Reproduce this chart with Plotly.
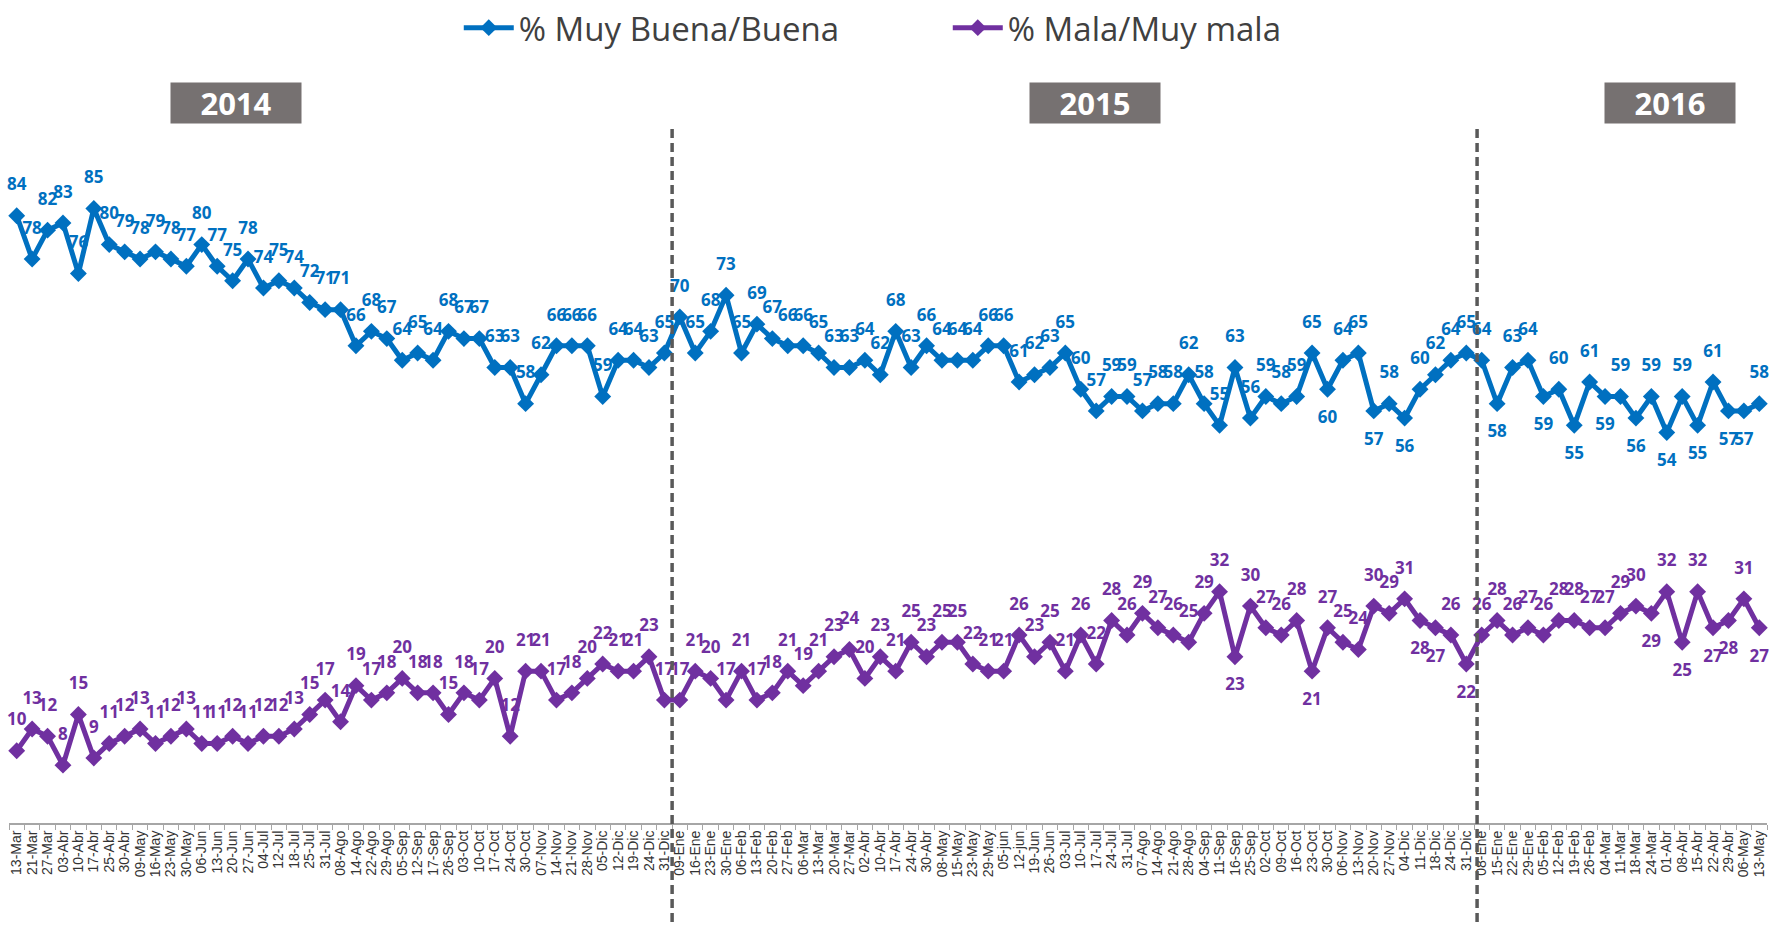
import plotly.graph_objects as go

# fechas (eje X) por año
fechas_2014 = ["13-Mar", "21-Mar", "27-Mar", "03-Abr", "10-Abr", "17-Abr", "25-Abr", "30-Abr", "09-May",
               "16-May", "23-May", "30-May", "06-Jun", "13-Jun", "20-Jun", "27-Jun", "04-Jul", "12-Jul",
               "18-Jul", "25-Jul", "31-Jul", "08-Ago", "14-Ago", "22-Ago", "29-Ago", "05-Sep", "12-Sep",
               "17-Sep", "26-Sep", "03-Oct", "10-Oct", "17-Oct", "24-Oct", "30-Oct", "07-Nov", "14-Nov",
               "21-Nov", "28-Nov", "05-Dic", "12-Dic", "19-Dic", "24-Dic", "31-Dic"]
fechas_2015 = ["09-Ene", "16-Ene", "23-Ene", "30-Ene", "06-Feb", "13-Feb", "20-Feb", "27-Feb", "06-Mar",
               "13-Mar", "20-Mar", "27-Mar", "02-Abr", "10-Abr", "17-Abr", "24-Abr", "30-Abr", "08-May",
               "15-May", "23-May", "29-May", "05-jun", "12-jun", "19-Jun", "26-Jun", "03-Jul", "10-Jul",
               "17-Jul", "24-Jul", "31-Jul", "07-Ago", "14-Ago", "21-Ago", "28-Ago", "04-Sep", "11-Sep",
               "16-Sep", "25-Sep", "02-Oct", "09-Oct", "16-Oct", "23-Oct", "30-Oct", "06-Nov", "13-Nov",
               "20-Nov", "27-Nov", "04-Dic", "11-Dic", "18-Dic", "24-Dic", "31-Dic"]
fechas_2016 = ["08-Ene", "15-Ene", "22-Ene", "29-Ene", "05-Feb", "12-Feb", "19-Feb", "26-Feb", "04-Mar",
               "11-Mar", "18-Mar", "24-Mar", "01-Abr", "08-Abr", "15-Abr", "22-Abr", "29-Abr", "06-May",
               "13-May"]

# % Muy Buena/Buena
buena_2014 = [84, 78, 82, 83, 76, 85, 80, 79, 78, 79, 78, 77, 80, 77, 75, 78, 74, 75, 74, 72, 71, 71,
              66, 68, 67, 64, 65, 64, 68, 67, 67, 63, 63, 58, 62, 66, 66, 66, 59, 64, 64, 63, 65]
buena_2015 = [70, 65, 68, 73, 65, 69, 67, 66, 66, 65, 63, 63, 64, 62, 68, 63, 66, 64, 64, 64, 66, 66,
              61, 62, 63, 65, 60, 57, 59, 59, 57, 58, 58, 62, 58, 55, 63, 56, 59, 58, 59, 65, 60, 64,
              65, 57, 58, 56, 60, 62, 64, 65]
buena_2016 = [64, 58, 63, 64, 59, 60, 55, 61, 59, 59, 56, 59, 54, 59, 55, 61, 57, 57, 58]

# % Mala/Muy mala
mala_2014 = [10, 13, 12, 8, 15, 9, 11, 12, 13, 11, 12, 13, 11, 11, 12, 11, 12, 12, 13, 15, 17, 14,
             19, 17, 18, 20, 18, 18, 15, 18, 17, 20, 12, 21, 21, 17, 18, 20, 22, 21, 21, 23, 17]
mala_2015 = [17, 21, 20, 17, 21, 17, 18, 21, 19, 21, 23, 24, 20, 23, 21, 25, 23, 25, 25, 22, 21, 21,
             26, 23, 25, 21, 26, 22, 28, 26, 29, 27, 26, 25, 29, 32, 23, 30, 27, 26, 28, 21, 27, 25,
             24, 30, 29, 31, 28, 27, 26, 22]
mala_2016 = [26, 28, 26, 27, 26, 28, 28, 27, 27, 29, 30, 29, 32, 25, 32, 27, 28, 31, 27]

anios = ["2014", "2015", "2016"]

fechas = fechas_2014 + fechas_2015 + fechas_2016
buena = buena_2014 + buena_2015 + buena_2016
mala = mala_2014 + mala_2015 + mala_2016
x = list(range(len(fechas)))

AZUL = "#0070C0"
MORADO = "#7030A0"

# etiquetas que van debajo del punto (estilo)
azul_abajo = {85, 88, 90, 96, 99, 101, 103, 105, 107, 109, 111, 112}
morado_abajo = {79, 84, 91, 92, 94, 106, 108, 110, 111, 113}

fig = go.Figure()

for nombre, serie, color, abajo in [("% Muy Buena/Buena", buena, AZUL, azul_abajo),
                                    ("% Mala/Muy mala", mala, MORADO, morado_abajo)]:
    fig.add_trace(go.Scatter(
        x=x, y=serie, mode="lines+markers", name=nombre,
        line=dict(color=color, width=5),
        marker=dict(symbol="diamond", size=13, color=color),
        cliponaxis=False,
    ))
    # etiquetas de datos (marcador invisible más grande para separarlas de la línea)
    fig.add_trace(go.Scatter(
        x=x, y=serie, mode="markers+text", showlegend=False, hoverinfo="skip",
        marker=dict(size=32, color="rgba(0,0,0,0)"),
        text=[str(v) for v in serie],
        textposition=["bottom center" if i in abajo else "top center" for i in x],
        textfont=dict(family="Open Sans", size=17, color=color, weight="bold"),
        cliponaxis=False,
    ))

# separadores de año
cortes = [len(fechas_2014) - 0.5, len(fechas_2014) + len(fechas_2015) - 0.3]
for c in cortes:
    fig.add_shape(type="line", xref="x", yref="paper", x0=c, x1=c, y0=-0.137, y1=0.964,
                  line=dict(color="#595959", width=3.5, dash="9px,5px"))

# cajas de año
pos_anios = [0.129, 0.6175, 0.945]
for a, px in zip(anios, pos_anios):
    fig.add_annotation(text=f"<b>{a}</b>", xref="paper", yref="paper", x=px, y=0.996,
                       xanchor="center", yanchor="middle",
                       showarrow=False, width=128, height=38, borderpad=1, bgcolor="#767171",
                       font=dict(family="Open Sans", size=31, color="white"))

fig.update_layout(
    width=1781, height=925,
    paper_bgcolor="white", plot_bgcolor="white",
    margin=dict(l=9, r=14, t=100, b=102, autoexpand=False),
    showlegend=True,
    legend=dict(orientation="h", x=0.534, xanchor="center", y=1.100, yanchor="middle",
                font=dict(family="Open Sans", size=33, color="#404040"),
                itemwidth=50, entrywidth=424, bgcolor="rgba(0,0,0,0)"),
    xaxis=dict(
        range=[-0.5, len(fechas) - 0.5],
        tickmode="array", tickvals=x, ticktext=fechas, tickangle=-90,
        tickfont=dict(family="Liberation Sans", size=14, color="#333333"),
        showgrid=False, zeroline=False,
        showline=True, linecolor="#A6A6A6", linewidth=2,
        ticks="",
        minor=dict(tickvals=[i - 0.5 for i in range(len(fechas) + 1)], ticks="outside",
                   ticklen=5, tickcolor="#A6A6A6", tickwidth=1, showgrid=False),
    ),
    yaxis=dict(range=[0, 100], visible=False, showgrid=False, zeroline=False),
)

fig.write_html("out.html", config={"displayModeBar": False},
               post_script="document.body.style.margin='0';")
